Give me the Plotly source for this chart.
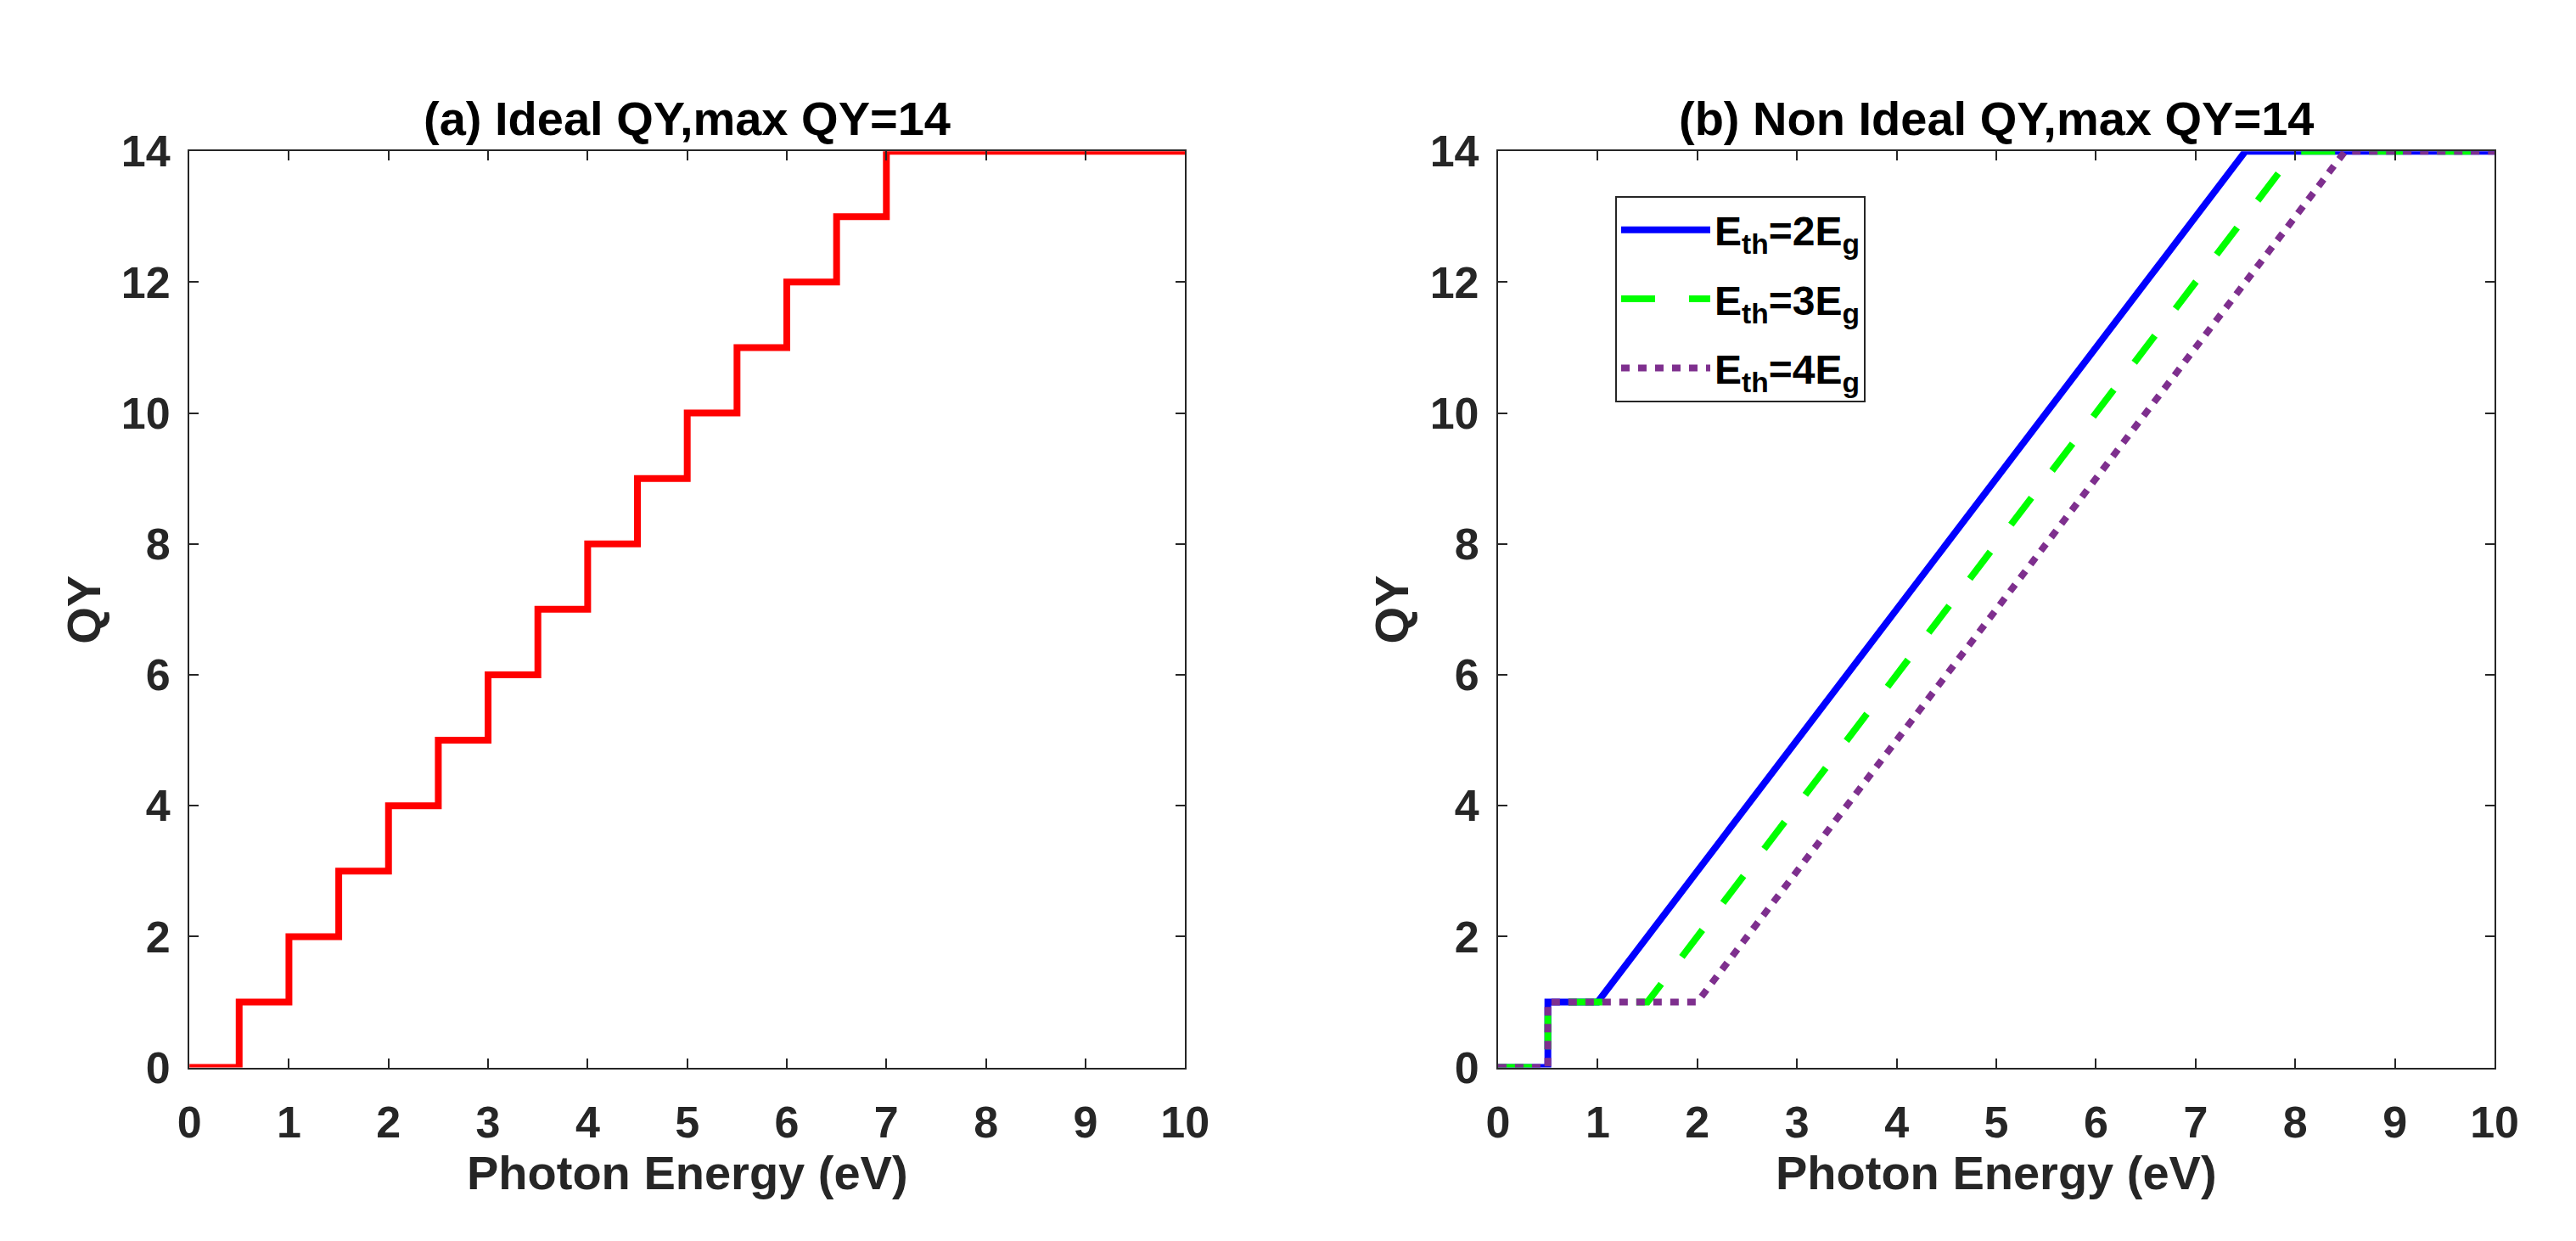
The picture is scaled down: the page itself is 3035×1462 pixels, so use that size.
import plotly.graph_objects as go

# (a) ideal QY: step edges
ideal_x = [0, 0.5, 1, 1.5, 2, 2.5, 3, 3.5, 4, 4.5, 5, 5.5, 6, 6.5, 7, 10]
ideal_qy = [0, 1, 2, 3, 4, 5, 6, 7, 8, 9, 10, 11, 12, 13, 14, 14]

# (b) non ideal QY, breakpoints of each curve
eth2_x = [0, 0.5, 0.5, 1.0, 7.5, 10]
eth2_qy = [0, 0, 1, 1, 14, 14]
eth3_x = [0, 0.5, 0.5, 1.5, 8.0, 10]
eth3_qy = [0, 0, 1, 1, 14, 14]
eth4_x = [0, 0.5, 0.5, 2.0, 8.5, 10]
eth4_qy = [0, 0, 1, 1, 14, 14]

x_ticks = list(range(0, 11))
y_ticks = list(range(0, 15, 2))

W, H = 3035, 1462
FONT = "Liberation Sans, Arial, sans-serif"
AXC = "#262626"

fig = go.Figure()

fig.add_trace(go.Scatter(x=ideal_x, y=ideal_qy, mode="lines", line_shape="hv",
                         line=dict(color="#FF0000", width=8), showlegend=False,
                         xaxis="x", yaxis="y"))

fig.add_trace(go.Scatter(x=eth2_x, y=eth2_qy, mode="lines", name="E<sub>th</sub>=2E<sub>g</sub>",
                         legendgroup="a", line=dict(color="#0000FF", width=8),
                         xaxis="x2", yaxis="y2"))
fig.add_trace(go.Scatter(x=eth3_x, y=eth3_qy, mode="lines", name="E<sub>th</sub>=3E<sub>g</sub>",
                         legendgroup="b", line=dict(color="#00FF00", width=8, dash="40px,40px"),
                         xaxis="x2", yaxis="y2"))
fig.add_trace(go.Scatter(x=eth4_x, y=eth4_qy, mode="lines", name="E<sub>th</sub>=4E<sub>g</sub>",
                         legendgroup="c", line=dict(color="#7E2F8E", width=8, dash="10px,10px"),
                         xaxis="x2", yaxis="y2"))

y_dom = [1 - 1271 / H, 1 - 147 / H]
left_dom = [204 / W, 1394 / W]
right_dom = [1768 / W, 2959 / W]

tick_font = dict(size=52, color=AXC, family=FONT, weight="bold")

def xaxis(dom, anchor):
    return dict(domain=dom, anchor=anchor, range=[0, 10], tickvals=x_ticks,
                ticks="inside", ticklen=11, tickwidth=2, tickcolor=AXC,
                showline=True, linecolor=AXC, linewidth=2, mirror="ticks",
                showgrid=False, zeroline=False, ticklabelstandoff=18,
                tickfont=tick_font)

def yaxis(anchor):
    return dict(domain=y_dom, anchor=anchor, range=[0, 14], tickvals=y_ticks,
                ticks="inside", ticklen=11, tickwidth=2, tickcolor=AXC,
                showline=True, linecolor=AXC, linewidth=2, mirror="ticks",
                showgrid=False, zeroline=False, ticklabelstandoff=10,
                tickfont=tick_font)

fig.update_layout(
    width=W, height=H,
    margin=dict(l=0, r=0, t=0, b=0),
    paper_bgcolor="white", plot_bgcolor="white",
    xaxis=xaxis(left_dom, "y"), yaxis=yaxis("x"),
    xaxis2=xaxis(right_dom, "y2"), yaxis2=yaxis("x2"),
    legend=dict(x=1908 / W, y=1 - 202 / H, xanchor="left", yanchor="top",
                bgcolor="white", bordercolor=AXC, borderwidth=2,
                itemwidth=105, tracegroupgap=16,
                font=dict(size=48, color="#000000", family=FONT, weight="bold")),
)

title_font = dict(size=56, color="#000000", family=FONT, weight="bold")
label_font = dict(size=56, color=AXC, family=FONT, weight="bold")

for dom, txt in [(left_dom, "(a) Ideal QY,max QY=14"), (right_dom, "(b) Non Ideal QY,max QY=14")]:
    cx = (dom[0] + dom[1]) / 2
    fig.add_annotation(x=cx, y=1 - 107 / H, xref="paper", yref="paper", text=txt,
                       showarrow=False, font=title_font, xanchor="center", yanchor="middle")
    fig.add_annotation(x=cx, y=1 - 1400 / H, xref="paper", yref="paper", text="Photon Energy (eV)",
                       showarrow=False, font=label_font, xanchor="center", yanchor="middle")

for px_x in [78, 1641]:
    fig.add_annotation(x=px_x / W, y=(y_dom[0] + y_dom[1]) / 2, xref="paper", yref="paper",
                       text="QY", textangle=-90, showarrow=False, font=label_font,
                       xanchor="center", yanchor="middle")

fig.write_html("out.html")
